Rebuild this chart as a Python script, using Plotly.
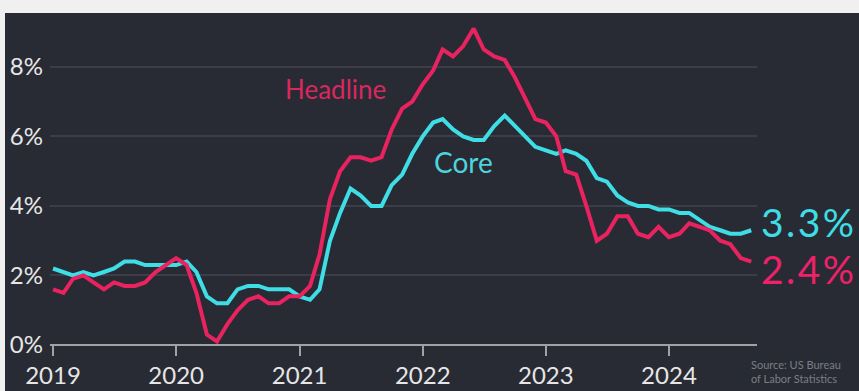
import plotly.graph_objects as go
import pandas as pd

months = pd.date_range("2019-01-01", "2024-09-01", freq="MS")

headline = [
    1.6, 1.5, 1.9, 2.0, 1.8, 1.6, 1.8, 1.7, 1.7, 1.8, 2.1, 2.3,
    2.5, 2.3, 1.5, 0.3, 0.1, 0.6, 1.0, 1.3, 1.4, 1.2, 1.2, 1.4,
    1.4, 1.7, 2.6, 4.2, 5.0, 5.4, 5.4, 5.3, 5.4, 6.2, 6.8, 7.0,
    7.5, 7.9, 8.5, 8.3, 8.6, 9.1, 8.5, 8.3, 8.2, 7.7, 7.1, 6.5,
    6.4, 6.0, 5.0, 4.9, 4.0, 3.0, 3.2, 3.7, 3.7, 3.2, 3.1, 3.4,
    3.1, 3.2, 3.5, 3.4, 3.3, 3.0, 2.9, 2.5, 2.4,
]
core = [
    2.2, 2.1, 2.0, 2.1, 2.0, 2.1, 2.2, 2.4, 2.4, 2.3, 2.3, 2.3,
    2.3, 2.4, 2.1, 1.4, 1.2, 1.2, 1.6, 1.7, 1.7, 1.6, 1.6, 1.6,
    1.4, 1.3, 1.6, 3.0, 3.8, 4.5, 4.3, 4.0, 4.0, 4.6, 4.9, 5.5,
    6.0, 6.4, 6.5, 6.2, 6.0, 5.9, 5.9, 6.3, 6.6, 6.3, 6.0, 5.7,
    5.6, 5.5, 5.6, 5.5, 5.3, 4.8, 4.7, 4.3, 4.1, 4.0, 4.0, 3.9,
    3.9, 3.8, 3.8, 3.6, 3.4, 3.3, 3.2, 3.2, 3.3,
]
year_ticks = ["2019-01-01", "2020-01-01", "2021-01-01", "2022-01-01", "2023-01-01", "2024-01-01"]
year_labels = ["2019", "2020", "2021", "2022", "2023", "2024"]
y_ticks = [0, 2, 4, 6, 8]
y_labels = ["0%", "2%", "4%", "6%", "8%"]

PINK = "#e8235f"
CYAN = "#3fdde5"
BG = "#282b34"
FONT = "Lato"
HS = "\u200a"

fig = go.Figure()
fig.add_trace(go.Scatter(x=months, y=core, mode="lines",
                         line=dict(color=CYAN, width=4), hoverinfo="skip"))
fig.add_trace(go.Scatter(x=months, y=headline, mode="lines",
                         line=dict(color=PINK, width=4), hoverinfo="skip"))

L, R, T, B = 50, 102, 13, 35
W, H = 859, 391
pw = W - L - R
ph = H - T - B

def px(p):
    return (p - L) / pw

def py(q):
    return (H - B - q) / ph

fig.add_shape(type="rect", xref="paper", yref="paper", layer="below",
              x0=px(0), x1=px(W), y0=py(T), y1=py(0),
              fillcolor="#f0f0f0", line=dict(width=0))
fig.add_shape(type="rect", xref="paper", yref="paper", layer="below",
              x0=px(0), x1=px(5), y0=py(H), y1=py(0),
              fillcolor="#f0f0f0", line=dict(width=0))

fig.add_annotation(x="2021-04-16", y=7.37, text="Headline", showarrow=False,
                   font=dict(family=FONT, size=26, color="#d9275f"))
fig.add_annotation(x="2022-05-03", y=5.27, text="Core", showarrow=False,
                   font=dict(family=FONT, size=28, color="#4fd3dc"))
fig.add_annotation(x=months[-1], y=core[-1], text=HS.join("3.3%"), showarrow=False,
                   xanchor="left", xshift=8, yshift=8,
                   font=dict(family=FONT, size=39, color=CYAN))
fig.add_annotation(x=months[-1], y=headline[-1], text=HS.join("2.4%"), showarrow=False,
                   xanchor="left", xshift=8, yshift=-7,
                   font=dict(family=FONT, size=39, color="#f0206a"))
fig.add_annotation(xref="paper", yref="paper", x=px(749), y=py(371),
                   xanchor="left", yanchor="middle", align="left", showarrow=False,
                   text="Source: US Bureau<br>of Labor Statistics",
                   font=dict(family=FONT, size=11, color="#7b7e86"))

fig.update_layout(
    width=W, height=H,
    margin=dict(l=L, r=R, t=T, b=B),
    paper_bgcolor=BG, plot_bgcolor=BG,
    showlegend=False,
    hovermode=False,
    xaxis=dict(
        type="date",
        range=["2018-12-23", "2024-09-18"],
        tickvals=year_ticks, ticktext=year_labels,
        ticks="inside", ticklen=11, tickwidth=2, tickcolor="#a0a2a8",
        showgrid=False, showline=False, zeroline=False,
        tickfont=dict(family=FONT, size=24, color="#e6e6e6"),
        ticklabelstandoff=3, automargin=False,
    ),
    yaxis=dict(
        range=[-11 / 34.75, 9.55],
        tickvals=y_ticks, ticktext=y_labels,
        showgrid=True, gridcolor="#3b3e48", gridwidth=2,
        zeroline=True, zerolinecolor="#a0a2a8", zerolinewidth=2,
        showline=False, ticks="",
        tickfont=dict(family=FONT, size=24, color="#e6e6e6"),
        ticklabelstandoff=6, automargin=False,
    ),
)

fig.write_html("out.html")
